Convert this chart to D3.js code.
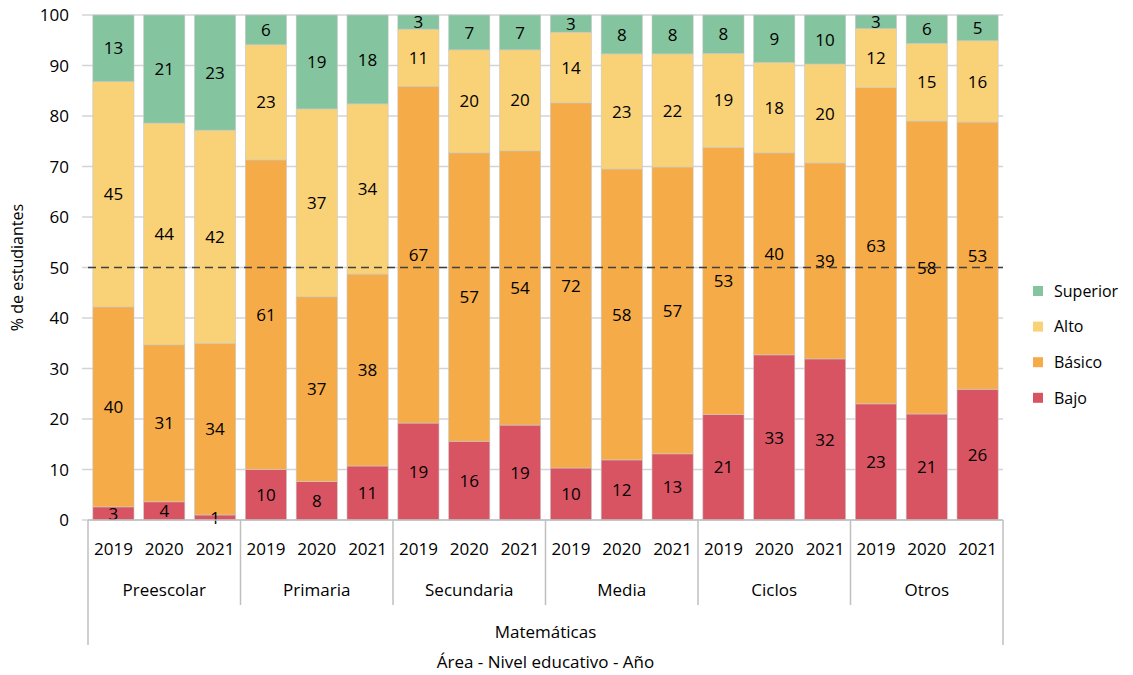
<!DOCTYPE html>
<html>
<head>
<meta charset="utf-8">
<script src="https://cdn.jsdelivr.net/npm/d3@7"></script>
<style>
  body { margin: 0; background: #fff; }
  text { font-family: "Open Sans", Lato, sans-serif; fill: #000; }
</style>
</head>
<body>
<script>
// chart values
var groups = ["Preescolar", "Primaria", "Secundaria", "Media", "Ciclos", "Otros"];
var years = ["2019", "2020", "2021"];
var levels = ["Bajo", "Básico", "Alto", "Superior"];
var colors = ["#d95462", "#f5ab47", "#f9d277", "#84c49e"];

var bajo     = [2.6, 3.6, 1.0, 10.0, 7.6, 10.7, 19.2, 15.6, 18.8, 10.3, 11.9, 13.1, 20.9, 32.7, 31.9, 23.0, 21.0, 25.9];
var basico   = [39.6, 31.1, 34.0, 61.3, 36.6, 38.0, 66.7, 57.1, 54.3, 72.3, 57.6, 56.8, 52.9, 40.0, 38.8, 62.6, 58.0, 52.9];
var alto     = [44.6, 43.9, 42.2, 22.8, 37.2, 33.7, 11.3, 20.4, 20.0, 14.0, 22.8, 22.4, 18.6, 17.9, 19.6, 11.7, 15.4, 16.1];
var superior = [13.2, 21.4, 22.8, 5.9, 18.6, 17.6, 2.8, 6.9, 6.9, 3.4, 7.7, 7.7, 7.6, 9.4, 9.7, 2.7, 5.6, 5.1];
var yTicks = [0, 10, 20, 30, 40, 50, 60, 70, 80, 90, 100];

var width = 1133, height = 675;
var plotLeft = 88, plotRight = 1003, plotTop = 15, plotBottom = 520;
var fontSize = "17px";

var rows = [];
groups.forEach(function (g, gi) {
    years.forEach(function (yr, yi) {
        var i = gi * 3 + yi;
        rows.push({ key: g + "-" + yr, group: g, year: yr,
            "Bajo": bajo[i], "Básico": basico[i], "Alto": alto[i], "Superior": superior[i] });
    });
});

var svg = d3.select("body").append("svg")
    .attr("width", width)
    .attr("height", height);

var x = d3.scaleBand()
    .domain(rows.map(function (d) { return d.key; }))
    .range([plotLeft, plotRight])
    .paddingInner(0.19)
    .paddingOuter(0.095);

var y = d3.scaleLinear().domain([0, 100]).range([plotBottom, plotTop]);

// gridlines
svg.append("g").selectAll("line")
    .data(yTicks)
    .enter().append("line")
    .attr("x1", plotLeft - 6).attr("x2", plotRight)
    .attr("y1", function (d) { return y(d); })
    .attr("y2", function (d) { return y(d); })
    .attr("stroke", "#d4d4d4")
    .attr("stroke-width", 1.5);

// y axis labels
svg.append("g").selectAll("text")
    .data(yTicks)
    .enter().append("text")
    .attr("x", 69)
    .attr("y", function (d) { return y(d); })
    .attr("dy", "0.36em")
    .attr("text-anchor", "end")
    .style("font-size", fontSize)
    .text(function (d) { return d; });

svg.append("text")
    .attr("transform", "translate(23," + ((plotTop + plotBottom) / 2) + ") rotate(-90)")
    .attr("text-anchor", "middle")
    .style("font-size", "16px")
    .text("% de estudiantes");

var stack = d3.stack().keys(levels);
var series = stack(rows);

var layer = svg.append("g").selectAll("g")
    .data(series)
    .enter().append("g")
    .attr("fill", function (d, i) { return colors[i]; });

layer.selectAll("rect")
    .data(function (d) { return d; })
    .enter().append("rect")
    .attr("x", function (d) { return x(d.data.key); })
    .attr("width", x.bandwidth())
    .attr("y", function (d) { return y(d[1]); })
    .attr("height", function (d) { return y(d[0]) - y(d[1]); })
    .attr("stroke", "#c9c9c9")
    .attr("stroke-width", 0.6);

// dashed reference line at 50
svg.append("line")
    .attr("x1", plotLeft).attr("x2", plotRight)
    .attr("y1", y(50)).attr("y2", y(50))
    .attr("stroke", "#404040")
    .attr("stroke-width", 1.5)
    .attr("stroke-dasharray", "8,5");

// segment labels
var labels = svg.append("g").selectAll("g")
    .data(series)
    .enter().append("g");

labels.selectAll("text")
    .data(function (d) { return d; })
    .enter().append("text")
    .attr("x", function (d) { return x(d.data.key) + x.bandwidth() / 2; })
    .attr("y", function (d) { return y((d[0] + d[1]) / 2); })
    .attr("dy", "0.36em")
    .attr("text-anchor", "middle")
    .style("font-size", fontSize)
    .text(function (d) { return d3.format(".0f")(d[1] - d[0]); });

// category axis
var axisColor = "#bfbfbf";
svg.append("line")
    .attr("x1", plotLeft).attr("x2", plotRight)
    .attr("y1", plotBottom).attr("y2", plotBottom)
    .attr("stroke", axisColor).attr("stroke-width", 1.5);

var step = x.step();
var bounds = d3.range(groups.length + 1).map(function (i) { return plotLeft + i * 3 * step; });
svg.append("g").selectAll("line")
    .data(bounds)
    .enter().append("line")
    .attr("x1", function (d) { return d; })
    .attr("x2", function (d) { return d; })
    .attr("y1", plotBottom)
    .attr("y2", function (d, i) { return (i === 0 || i === groups.length) ? 645 : 605; })
    .attr("stroke", axisColor).attr("stroke-width", 1.5);

svg.append("g").selectAll("text")
    .data(rows)
    .enter().append("text")
    .attr("x", function (d) { return x(d.key) + x.bandwidth() / 2; })
    .attr("y", 555)
    .attr("text-anchor", "middle")
    .style("font-size", fontSize)
    .text(function (d) { return d.year; });

svg.append("g").selectAll("text")
    .data(groups)
    .enter().append("text")
    .attr("x", function (d, i) { return (bounds[i] + bounds[i + 1]) / 2; })
    .attr("y", 596)
    .attr("text-anchor", "middle")
    .style("font-size", fontSize)
    .text(function (d) { return d; });

svg.append("text")
    .attr("x", (plotLeft + plotRight) / 2)
    .attr("y", 638)
    .attr("text-anchor", "middle")
    .style("font-size", fontSize)
    .text("Matemáticas");

svg.append("text")
    .attr("x", (plotLeft + plotRight) / 2)
    .attr("y", 668)
    .attr("text-anchor", "middle")
    .style("font-size", fontSize)
    .text("Área - Nivel educativo - Año");

// legend
var legend = svg.append("g").selectAll("g")
    .data(levels.slice().reverse())
    .enter().append("g")
    .attr("transform", function (d, i) { return "translate(1033," + (291 + i * 35.6) + ")"; });

legend.append("rect")
    .attr("x", 0).attr("y", -5)
    .attr("width", 10).attr("height", 10)
    .attr("fill", function (d) { return colors[levels.indexOf(d)]; });

legend.append("text")
    .attr("x", 21)
    .attr("dy", "0.36em")
    .style("font-size", "16px")
    .text(function (d) { return d; });
</script>
</body>
</html>
